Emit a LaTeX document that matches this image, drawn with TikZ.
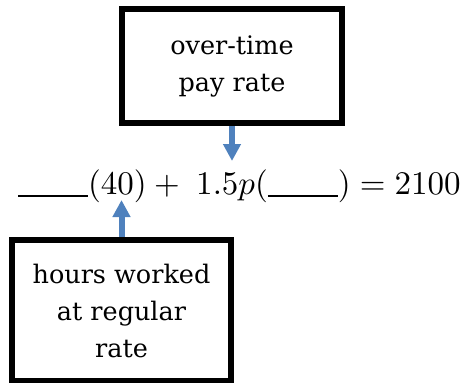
\documentclass[tikz,border=0pt]{standalone}
\usepackage{graphicx}
\usepackage{fontspec}
\newfontfamily\boxfont{DejaVu Serif}
\usetikzlibrary{arrows.meta}
\definecolor{arrowblue}{RGB}{79,129,189}
\newcommand{\blankline}{\rule[-0.9pt]{21.2pt}{0.55pt}}
\begin{document}
\begin{tikzpicture}[x=1pt,y=-1pt]
                \tikzset{
                    labelbox/.style={draw, line width=6pt, align=center, inner sep=0pt, font=\boxfont\fontsize{25.5}{37}\selectfont},
                    pointer/.style={arrowblue, line width=6pt, -{Triangle[width=17pt,length=17pt]}}
                }
                \useasboundingbox (0,0) rectangle (467,383);

                \draw node[labelbox, minimum width=220pt, minimum height=114pt] (overtime) at (232,66) {over-time\\pay rate};
                \draw node[labelbox, minimum width=219pt, minimum height=141pt] (hours) at (121.5,310.5) {hours worked\\at regular\\rate};
                \draw node[anchor=base west, inner sep=0pt] (eqn) at (18,194)
                    {\scalebox{3.3}{$\blankline(40) + \;1.5p(\blankline) = 2100$}};

                \coordinate (toptip) at (232,161);
                \coordinate (bottip) at (121.5,200);
                \draw (overtime.south) edge[pointer] (toptip);
                \draw (hours.north) edge[pointer] (bottip);
            \end{tikzpicture}
\end{document}
